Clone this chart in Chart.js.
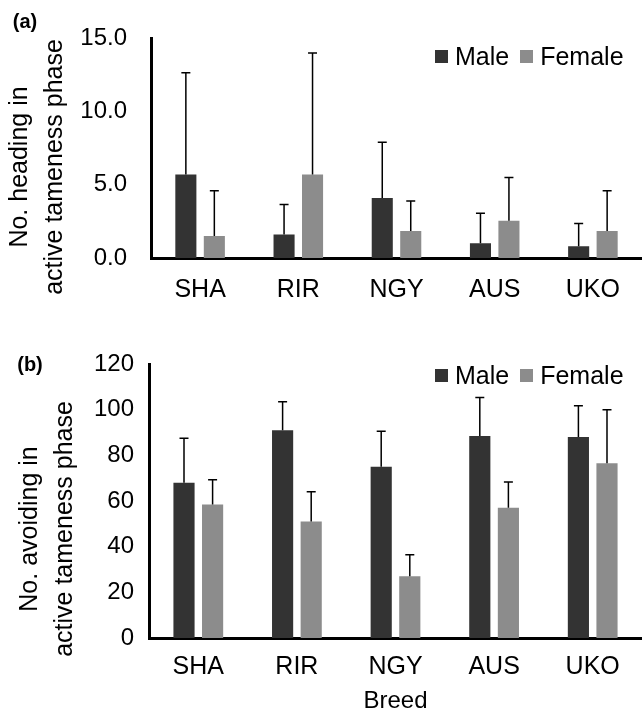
<!DOCTYPE html>
<html>
<head>
<meta charset="utf-8">
<script src="https://cdn.jsdelivr.net/npm/chart.js@4"></script>
<style>
  body { margin: 0; background: #fff; font-family: "Liberation Sans", Arial, sans-serif; }
  .panel { position: absolute; left: 0; width: 642px; }
  #panelA { top: 0; height: 300px; }
  #panelB { top: 300px; height: 415px; }
  .legend { position: absolute; left: 435px; display: flex; align-items: center;
            font-size: 25px; line-height: 30px; color: #000; }
  .legend .box { width: 13px; height: 13px; margin-right: 7px; }
  .legend .txt { margin-right: 11px; }
</style>
</head>
<body>
<div class="panel" id="panelA"><canvas id="chartHeading"></canvas><div class="legend" id="legendA" style="top:41px;"></div></div>
<div class="panel" id="panelB"><canvas id="chartAvoiding"></canvas><div class="legend" id="legendB" style="top:60px;"></div></div>

<script>
// ── Data ──
const breeds = ['SHA', 'RIR', 'NGY', 'AUS', 'UKO'];

// (a) number heading
const headMale     = [5.7, 1.6, 4.1, 1.0, 0.8];
const headMaleSd   = [6.95, 2.05, 3.8, 2.05, 1.55];
const headFemale   = [1.5, 5.7, 1.85, 2.55, 1.85];
const headFemaleSd = [3.1, 8.3, 2.05, 2.95, 2.75];
const headTicks    = [0, 5, 10, 15];

// (b) number avoiding
const avoidMale     = [68, 91, 75, 88.5, 88];
const avoidMaleSd   = [19.5, 12.5, 15.5, 16.8, 13.7];
const avoidFemale   = [58.5, 51, 27, 57, 76.5];
const avoidFemaleSd = [10.8, 13, 9.5, 11.3, 23.5];
const avoidTicks    = [0, 20, 40, 60, 80, 100, 120];

const MALE_COLOR   = '#333333';
const FEMALE_COLOR = '#8c8c8c';
const FONT = '"Liberation Sans", Arial, sans-serif';

// ── Upper error bars (mean + SD) ──
const errorBars = {
  id: 'errorBars',
  afterDatasetsDraw(chart) {
    const { ctx } = chart;
    const y = chart.scales.y;
    ctx.save();
    ctx.strokeStyle = '#000';
    ctx.lineWidth = 1.5;
    chart.data.datasets.forEach((ds, i) => {
      chart.getDatasetMeta(i).data.forEach((bar, j) => {
        const top = y.getPixelForValue(ds.data[j] + ds.sd[j]);
        ctx.beginPath();
        ctx.moveTo(bar.x, bar.y);
        ctx.lineTo(bar.x, top);
        ctx.moveTo(bar.x - 4.5, top);
        ctx.lineTo(bar.x + 4.5, top);
        ctx.stroke();
      });
    });
    ctx.restore();
  }
};

// ── Panel tag + two-line rotated y title ──
const sideText = {
  id: 'sideText',
  afterDraw(chart, args, o) {
    const { ctx } = chart;
    ctx.save();
    ctx.fillStyle = '#000';
    ctx.font = 'bold 20px ' + FONT;
    ctx.textAlign = 'center';
    ctx.textBaseline = 'middle';
    ctx.fillText(o.tag, o.tagX, o.tagY);

    ctx.font = '25px ' + FONT;
    ctx.textBaseline = 'alphabetic';
    o.lines.forEach((line, k) => {
      ctx.save();
      ctx.translate(o.xs[k], o.y);
      ctx.rotate(-Math.PI / 2);
      ctx.fillText(line, 0, 0);
      ctx.restore();
    });
    ctx.restore();
  }
};

function makeChart(id, male, maleSd, female, femaleSd, ticks, cfg) {
  return new Chart(document.getElementById(id), {
    type: 'bar',
    data: {
      labels: breeds,
      datasets: [
        { label: 'Male',   data: male,   sd: maleSd,   backgroundColor: MALE_COLOR },
        { label: 'Female', data: female, sd: femaleSd, backgroundColor: FEMALE_COLOR }
      ]
    },
    options: {
      responsive: true,
      maintainAspectRatio: false,
      animation: false,
      categoryPercentage: 0.58,
      barPercentage: 0.74,
      layout: { padding: { top: cfg.top, left: 0, right: 0, bottom: 0 } },
      plugins: {
        legend: { display: false },
        tooltip: { enabled: false },
        sideText: cfg.side
      },
      scales: {
        x: {
          grid: { display: false, drawTicks: false },
          border: { color: '#000', width: 3 },
          ticks: { color: '#000', padding: cfg.xPad, font: { family: FONT, size: 25 } },
          title: {
            display: !!cfg.xTitle, text: cfg.xTitle, color: '#000',
            padding: 0, font: { family: FONT, size: 24, lineHeight: 1.1 }
          },
          afterFit: s => { s.height = cfg.xHeight; }
        },
        y: {
          min: 0,
          max: ticks[ticks.length - 1],
          grid: { display: false, drawTicks: false },
          border: { color: '#000', width: 3 },
          ticks: {
            color: '#000', padding: cfg.yPad, font: { family: FONT, size: 24 },
            callback: v => cfg.decimals ? v.toFixed(cfg.decimals) : v
          },
          afterBuildTicks: s => { s.ticks = ticks.map(v => ({ value: v })); },
          afterFit: s => { s.width = cfg.yWidth; }
        }
      }
    },
    plugins: [errorBars, sideText]
  });
}

// ── Legend (built from the chart's datasets) ──
function buildLegend(chart, elId) {
  let html = '';
  chart.data.datasets.forEach(ds => {
    html += `<span class="box" style="background:${ds.backgroundColor};"></span><span class="txt">${ds.label}</span>`;
  });
  document.getElementById(elId).innerHTML = html;
}

const chartA = makeChart('chartHeading', headMale, headMaleSd, headFemale, headFemaleSd, headTicks, {
  top: 33, xHeight: 42, xPad: 17, yWidth: 151, yPad: 24, decimals: 1, xTitle: null,
  side: { tag: '(a)', tagX: 25, tagY: 22,
          lines: ['No. heading in', 'active tameness phase'], xs: [27, 62], y: 167 }
});

const chartB = makeChart('chartAvoiding', avoidMale, avoidMaleSd, avoidFemale, avoidFemaleSd, avoidTicks, {
  top: 64, xHeight: 77, xPad: 14, yWidth: 149, yPad: 15, decimals: 0, xTitle: 'Breed',
  side: { tag: '(b)', tagX: 30, tagY: 65,
          lines: ['No. avoiding in', 'active tameness phase'], xs: [37, 72], y: 229 }
});

buildLegend(chartA, 'legendA');
buildLegend(chartB, 'legendB');
</script>
</body>
</html>
